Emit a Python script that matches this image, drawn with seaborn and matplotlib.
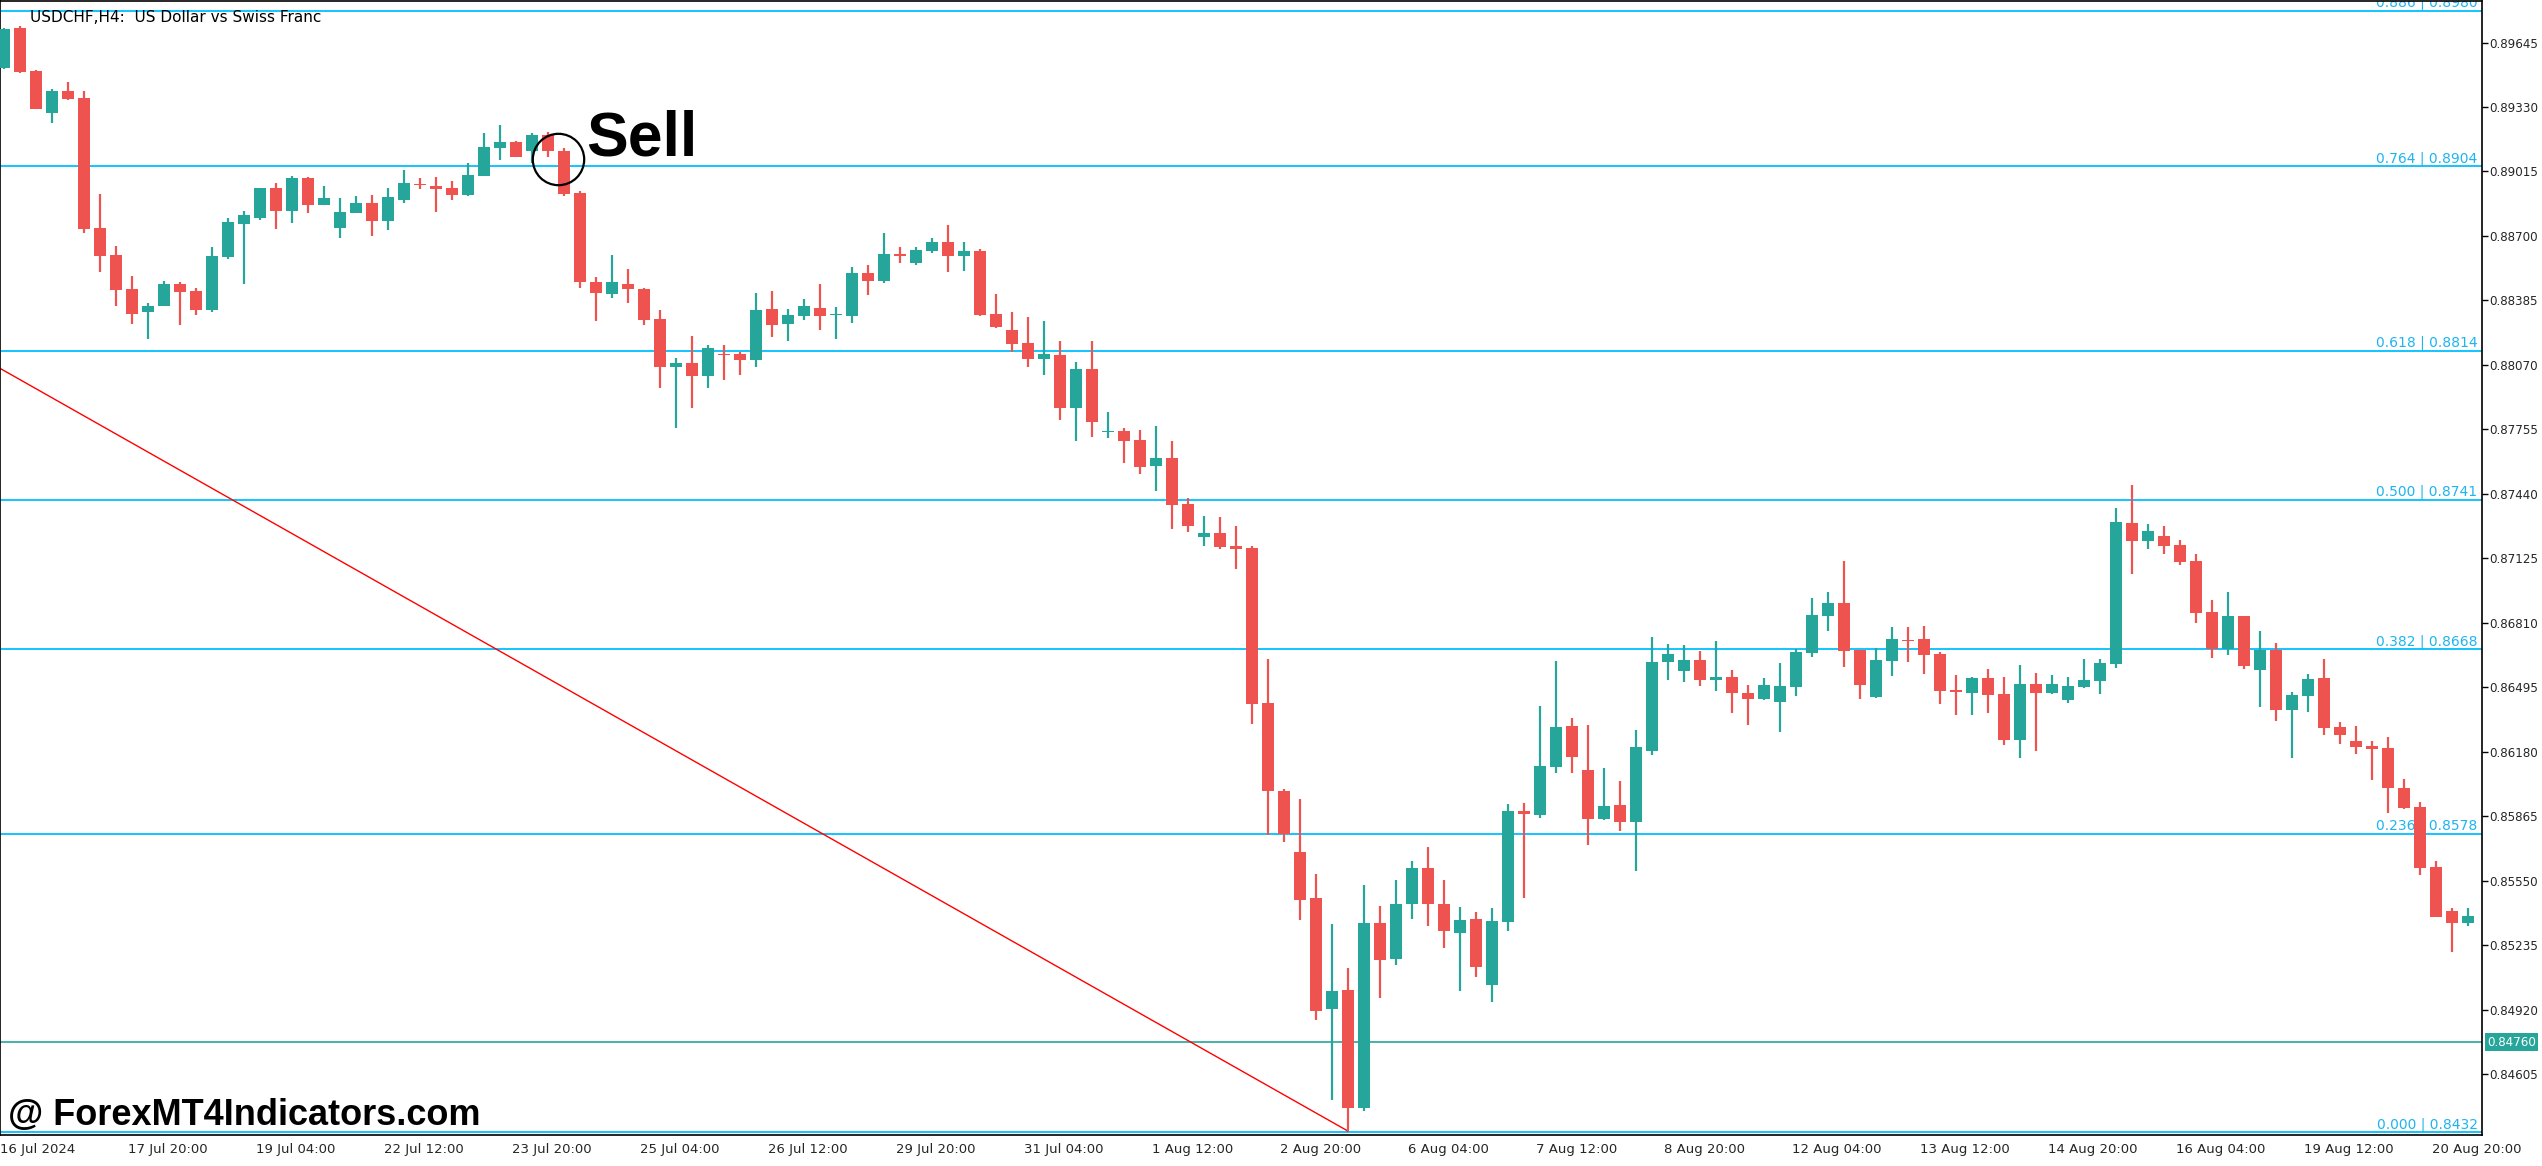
import matplotlib
matplotlib.use("Agg")
import matplotlib.pyplot as plt
import seaborn as sns
import numpy as np
import pandas as pd

sns.set_style("white")
plt.rcParams['font.family'] = ['DejaVu Sans']

# --- данные свечей USDCHF H4 ---
opens = [
    0.89523, 0.89718, 0.89508, 0.89303, 0.8941, 0.89376, 0.88741, 0.88605, 0.88439, 0.88326,
    0.8836, 0.88463, 0.88429, 0.88336, 0.88595, 0.88756, 0.8879, 0.88932, 0.88824, 0.88981,
    0.88849, 0.88741, 0.8881, 0.88859, 0.88771, 0.88878, 0.88956, 0.88942, 0.88932, 0.88898,
    0.88995, 0.89132, 0.89161, 0.89117, 0.89191, 0.89117, 0.88912, 0.88473, 0.88414, 0.88463,
    0.88443, 0.88292, 0.88062, 0.88077, 0.88014, 0.88121, 0.88121, 0.88092, 0.88341, 0.88268,
    0.88307, 0.88346, 0.88312, 0.88307, 0.88517, 0.88478, 0.88614, 0.8857, 0.88624, 0.88668,
    0.886, 0.88624, 0.88317, 0.88238, 0.88175, 0.88097, 0.88116, 0.87857, 0.88048, 0.8774,
    0.87745, 0.87701, 0.87574, 0.87613, 0.87388, 0.87227, 0.87247, 0.87183, 0.87174, 0.86417,
    0.85987, 0.85689, 0.85464, 0.84922, 0.85015, 0.84439, 0.85342, 0.85166, 0.85435, 0.85611,
    0.85435, 0.85293, 0.85362, 0.85039, 0.85347, 0.85889, 0.85869, 0.86104, 0.86304, 0.8609,
    0.8585, 0.85918, 0.85835, 0.86182, 0.86617, 0.86573, 0.86627, 0.86529, 0.86543, 0.86465,
    0.86436, 0.86421, 0.86495, 0.86661, 0.86841, 0.86905, 0.86675, 0.86446, 0.86622, 0.86724,
    0.8673, 0.86656, 0.8648, 0.86465, 0.86539, 0.8646, 0.86236, 0.86509, 0.86465, 0.86431,
    0.86495, 0.86524, 0.86607, 0.87296, 0.87208, 0.87232, 0.87188, 0.8711, 0.86861, 0.8668,
    0.86841, 0.86578, 0.86675, 0.86382, 0.86451, 0.86539, 0.86299, 0.86231, 0.86207, 0.86197,
    0.86001, 0.85909, 0.85616, 0.85401, 0.85342]
highs = [
    0.89718, 0.89728, 0.89513, 0.8942, 0.8945, 0.8941, 0.88903, 0.88653, 0.88502, 0.8837,
    0.88478, 0.88473, 0.88448, 0.88644, 0.8879, 0.88824, 0.88932, 0.88961, 0.88995, 0.88986,
    0.88946, 0.88883, 0.88893, 0.88898, 0.88932, 0.8902, 0.88981, 0.88986, 0.88966, 0.89054,
    0.89205, 0.8924, 0.89166, 0.89205, 0.8921, 0.89132, 0.88922, 0.88497, 0.88605, 0.88536,
    0.88448, 0.88336, 0.88102, 0.88209, 0.88165, 0.88165, 0.88131, 0.8842, 0.88429, 0.88341,
    0.8839, 0.88463, 0.88351, 0.88546, 0.88556, 0.88712, 0.88644, 0.88644, 0.88688, 0.88751,
    0.88668, 0.88634, 0.88414, 0.88326, 0.88302, 0.88282, 0.88189, 0.88082, 0.88185, 0.87838,
    0.8776, 0.8775, 0.87769, 0.87696, 0.87418, 0.8733, 0.87325, 0.87281, 0.87183, 0.86631,
    0.85997, 0.85948, 0.85581, 0.85337, 0.85122, 0.85528, 0.85425, 0.85552, 0.85645, 0.85713,
    0.85552, 0.8542, 0.85396, 0.85415, 0.85923, 0.85928, 0.86402, 0.86622, 0.86343, 0.86309,
    0.86099, 0.86036, 0.86285, 0.86739, 0.86705, 0.867, 0.86671, 0.86719, 0.86578, 0.86504,
    0.86539, 0.86612, 0.8668, 0.86929, 0.86959, 0.8711, 0.86675, 0.86685, 0.86788, 0.86788,
    0.86793, 0.86666, 0.86553, 0.86543, 0.86583, 0.86543, 0.86602, 0.86563, 0.86553, 0.86543,
    0.86631, 0.86631, 0.87369, 0.87481, 0.87291, 0.87281, 0.87213, 0.87144, 0.8692, 0.86959,
    0.86841, 0.86768, 0.8671, 0.8647, 0.86558, 0.86631, 0.86324, 0.86304, 0.86231, 0.86251,
    0.86045, 0.85933, 0.85645, 0.85415, 0.85415]
lows = [
    0.89518, 0.89498, 0.89318, 0.89254, 0.89362, 0.88712, 0.88522, 0.88356, 0.88268, 0.88194,
    0.8836, 0.88263, 0.88312, 0.88326, 0.88585, 0.88463, 0.8878, 0.88736, 0.88761, 0.8881,
    0.88849, 0.88688, 0.8881, 0.88702, 0.88727, 0.88859, 0.88927, 0.88815, 0.88878, 0.88893,
    0.88995, 0.89069, 0.89088, 0.89054, 0.89088, 0.88893, 0.88448, 0.88282, 0.88399, 0.8837,
    0.88263, 0.87955, 0.8776, 0.87857, 0.87955, 0.87994, 0.88019, 0.88062, 0.88204, 0.88189,
    0.88287, 0.88238, 0.88194, 0.88277, 0.88409, 0.88468, 0.88566, 0.88556, 0.88619, 0.88526,
    0.88531, 0.88307, 0.88248, 0.88131, 0.88062, 0.88019, 0.87799, 0.87696, 0.87716, 0.87711,
    0.87589, 0.87535, 0.87452, 0.87266, 0.87252, 0.87183, 0.87169, 0.87071, 0.86314, 0.85772,
    0.85738, 0.85357, 0.84868, 0.84478, 0.84326, 0.84424, 0.84976, 0.85137, 0.85362, 0.85327,
    0.8522, 0.8501, 0.85078, 0.84956, 0.85303, 0.85464, 0.85855, 0.86075, 0.86075, 0.85723,
    0.85845, 0.85791, 0.85596, 0.86163, 0.86529, 0.86519, 0.865, 0.86475, 0.86368, 0.86309,
    0.86431, 0.86275, 0.86451, 0.86641, 0.86768, 0.86592, 0.86436, 0.86441, 0.86548, 0.86617,
    0.86558, 0.86412, 0.86358, 0.86358, 0.86368, 0.86211, 0.86148, 0.86182, 0.8646, 0.86417,
    0.8649, 0.8646, 0.86588, 0.87047, 0.87169, 0.87144, 0.87091, 0.86807, 0.86636, 0.86651,
    0.86583, 0.86397, 0.86329, 0.86148, 0.86373, 0.8626, 0.86216, 0.86167, 0.8604, 0.85879,
    0.85899, 0.85577, 0.85371, 0.852, 0.85327]
closes = [
    0.89713, 0.89503, 0.89318, 0.8941, 0.89371, 0.88736, 0.886, 0.88434, 0.88321, 0.8836,
    0.88463, 0.88424, 0.88336, 0.886, 0.88766, 0.888, 0.88932, 0.88824, 0.88981, 0.88849,
    0.88883, 0.88815, 0.88859, 0.88771, 0.88888, 0.88961, 0.88951, 0.88927, 0.88898, 0.89,
    0.89137, 0.89161, 0.89088, 0.89191, 0.89113, 0.88907, 0.88473, 0.8842, 0.88473, 0.88439,
    0.88287, 0.88062, 0.88077, 0.88014, 0.8815, 0.88116, 0.88092, 0.88336, 0.88263, 0.88312,
    0.88356, 0.88307, 0.88317, 0.88517, 0.88478, 0.88614, 0.886, 0.88629, 0.88668, 0.886,
    0.88624, 0.88312, 0.88253, 0.8817, 0.88097, 0.88121, 0.87857, 0.88048, 0.87789, 0.87745,
    0.87696, 0.87569, 0.87613, 0.87384, 0.87281, 0.87247, 0.87178, 0.87169, 0.86412, 0.85987,
    0.85777, 0.85454, 0.84912, 0.8501, 0.84439, 0.85342, 0.85161, 0.85435, 0.85611, 0.85435,
    0.85303, 0.85357, 0.85127, 0.85352, 0.85889, 0.85874, 0.86109, 0.86299, 0.86153, 0.8585,
    0.85913, 0.85835, 0.86202, 0.86617, 0.86656, 0.86627, 0.86529, 0.86543, 0.86465, 0.86436,
    0.86504, 0.86499, 0.86666, 0.86846, 0.86905, 0.86671, 0.86504, 0.86627, 0.8673, 0.8672,
    0.86651, 0.86475, 0.8647, 0.86539, 0.86456, 0.86236, 0.86509, 0.86465, 0.86509, 0.86499,
    0.86529, 0.86612, 0.87301, 0.87208, 0.87257, 0.87183, 0.87105, 0.86856, 0.8668, 0.86841,
    0.86597, 0.86675, 0.86382, 0.86456, 0.86534, 0.86294, 0.8626, 0.86202, 0.86192, 0.86001,
    0.85904, 0.85611, 0.85371, 0.85342, 0.85376]

# уровни Фибоначчи
fib_ratios = ['0.000', '0.236', '0.382', '0.500', '0.618', '0.764', '0.886']
fib_prices = [0.8432, 0.8578, 0.8668, 0.8741, 0.8814, 0.8904, 0.8980]
bid_price = 0.84760
trend_start = 0.88053   # цена у левого края
trend_end = 0.84326     # минимум свечи 85
trend_end_bar = 84

price_ticks = [0.89645, 0.89330, 0.89015, 0.88700, 0.88385, 0.88070, 0.87755,
               0.87440, 0.87125, 0.86810, 0.86495, 0.86180, 0.85865, 0.85550,
               0.85235, 0.84920, 0.84605]
time_labels = ['16 Jul 2024', '17 Jul 20:00', '19 Jul 04:00', '22 Jul 12:00',
               '23 Jul 20:00', '25 Jul 04:00', '26 Jul 12:00', '29 Jul 20:00',
               '31 Jul 04:00', '1 Aug 12:00', '2 Aug 20:00', '6 Aug 04:00',
               '7 Aug 12:00', '8 Aug 20:00', '12 Aug 04:00', '13 Aug 12:00',
               '14 Aug 20:00', '16 Aug 04:00', '19 Aug 12:00', '20 Aug 20:00']

GREEN = '#26A69A'
RED = '#EF5350'
CYAN = '#00BFFF'

df = pd.DataFrame({'open': opens, 'high': highs, 'low': lows, 'close': closes})
df['bar'] = np.arange(len(df))
df['up'] = df['close'] >= df['open']
df['color'] = np.where(df['up'], GREEN, RED)

fig = plt.figure(figsize=(25.42, 11.66), dpi=100)
ax = fig.add_axes([0.0, 0.0266, 2482 / 2542, 1 - 0.0266 - 0.0005])

# фибо-линии
for r, p in zip(fib_ratios, fib_prices):
    ax.axhline(p, color=CYAN, lw=1.3, zorder=1)
    ax.text(154.6, p + 0.00004, f'{r} | {p:.4f}', color='#1EB4F0', fontsize=10,
            ha='right', va='bottom', zorder=2, clip_on=True)
ax.axhline(bid_price, color=GREEN, lw=1.2, zorder=1)

# трендовая линия
ax.plot([-0.25, trend_end_bar], [trend_start, trend_end], color='red', lw=1, zorder=1)

# свечи
ax.vlines(df['bar'], df['low'], df['high'], colors=df['color'], lw=1.6, zorder=3)
body_bottom = df[['open', 'close']].min(axis=1)
body_h = (df['close'] - df['open']).abs().clip(lower=0.00005)
ax.bar(df['bar'], body_h, bottom=body_bottom, width=0.69, color=df['color'],
       linewidth=0, zorder=4)

# сигнал Sell
ax.plot([34.6], [0.89078], marker='o', markersize=37, markerfacecolor='none',
        markeredgecolor='black', markeredgewidth=1.6, zorder=5)
ax.text(36.4, 0.89176, 'Sell', fontsize=45, fontweight='bold', family='Liberation Sans',
        va='center', ha='left', color='black', zorder=6)

# оси
ax.set_xlim(-0.25, 154.875)
ax.set_ylim(0.84307, 0.8985)
ax.yaxis.tick_right()
ax.set_yticks(price_ticks)
ax.set_yticklabels([f'{t:.5f}' for t in price_ticks], fontsize=8.6)
ax.set_xticks([-0.25 + 8 * k for k in range(len(time_labels))])
ax.set_xticklabels(time_labels, fontsize=9.5, ha='left')
ax.tick_params(axis='both', direction='out', length=4, width=1, color='black', pad=1.5)
for s in ax.spines.values():
    s.set_color('black')
    s.set_linewidth(1.2)

# подпись bid
ax.text(1.002, bid_price, '0.84760', transform=ax.get_yaxis_transform(), fontsize=8.6,
        color='white', va='center', ha='left',
        bbox=dict(boxstyle='square,pad=0.2', facecolor=GREEN, edgecolor='none'))

# заголовок и водяной знак
ax.text(0.012, 0.985, 'USDCHF,H4:  US Dollar vs Swiss Franc', transform=ax.transAxes,
        fontsize=11, va='center', ha='left', color='black')
fig.text(8 / 2542, 1 - 1116 / 1166, '@ ForexMT4Indicators.com', fontsize=26,
         fontweight='bold', family=['Liberation Sans Narrow', 'Liberation Sans'],
         va='center', ha='left', color='black')

fig.savefig('out.png', dpi=100, facecolor='white')
